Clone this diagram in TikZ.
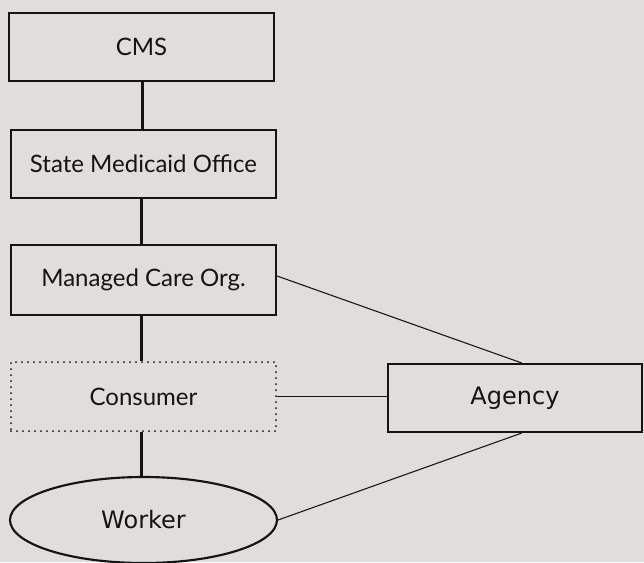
\documentclass[tikz,border=0pt]{standalone}
\usepackage{fontspec}
\setmainfont{Lato}
\newfontfamily\dvfont{DejaVu Sans}
\usetikzlibrary{shapes.geometric}
\definecolor{bgcol}{RGB}{224,221,218}
\definecolor{inkcol}{RGB}{20,20,20}
\tikzset{
  orgbox/.style={draw=inkcol, line width=1.6pt, rectangle, inner sep=0pt,
    minimum width=198.75pt, minimum height=51pt, text=inkcol,
    font=\fontsize{18}{21}\selectfont},
  dotbox/.style={orgbox, draw=inkcol, line width=1.5pt, dash pattern=on 0pt off 4.5pt, line cap=round},
  agencybox/.style={draw=inkcol, line width=1.6pt, rectangle, inner sep=0pt,
    minimum width=190.5pt, minimum height=51pt, text=inkcol,
    font=\dvfont\fontsize{18}{21}\selectfont},
  workerell/.style={draw=inkcol, line width=1.6pt, ellipse, inner sep=0pt,
    minimum width=200.25pt, minimum height=64.5pt, text=inkcol,
    font=\dvfont\fontsize{18}{21}\selectfont},
  thickline/.style={draw=inkcol, line width=1.6pt},
  thinline/.style={draw=inkcol, line width=0.8pt}
}
\begin{document}
\begin{tikzpicture}[x=0.75pt, y=-0.75pt]
\fill[bgcol] (0,0) rectangle (644,562);
\useasboundingbox (0,0) rectangle (644,562);
\node[orgbox] (cms) at (141.5,47) {CMS};
\node[orgbox] (smo) at (143.5,164) {State Medicaid Office};
\node[orgbox, minimum height=52.5pt] (mco) at (143.5,280) {Managed Care Org.};
\node[dotbox, minimum height=51.75pt] (cons) at (143.5,396.5) {Consumer};
\node[workerell] (worker) at (143.5,520) {Worker};
\node[agencybox] (agency) at (515,398) {Agency};
\draw[thickline] ([xshift=0.75pt]cms.south) -- ([xshift=0.75pt]cms.south |- smo.north);
\draw[thickline] ([xshift=-1.5pt]smo.south) -- ([xshift=-1.5pt]smo.south |- mco.north);
\draw[thickline] ([xshift=-1.5pt]mco.south) -- ([xshift=-1.5pt]mco.south |- cons.north);
\draw[thickline] ([xshift=-1.5pt]cons.south) -- ([xshift=-1.5pt]cons.south |- worker.north);
\draw[thinline] ([yshift=3pt]mco.east) -- ([xshift=5pt]agency.north);
\draw[thinline] (cons.east) -- (agency.west |- cons.east);
\draw[thinline] (worker.east) -- ([xshift=5pt]agency.south);
\end{tikzpicture}
\end{document}
